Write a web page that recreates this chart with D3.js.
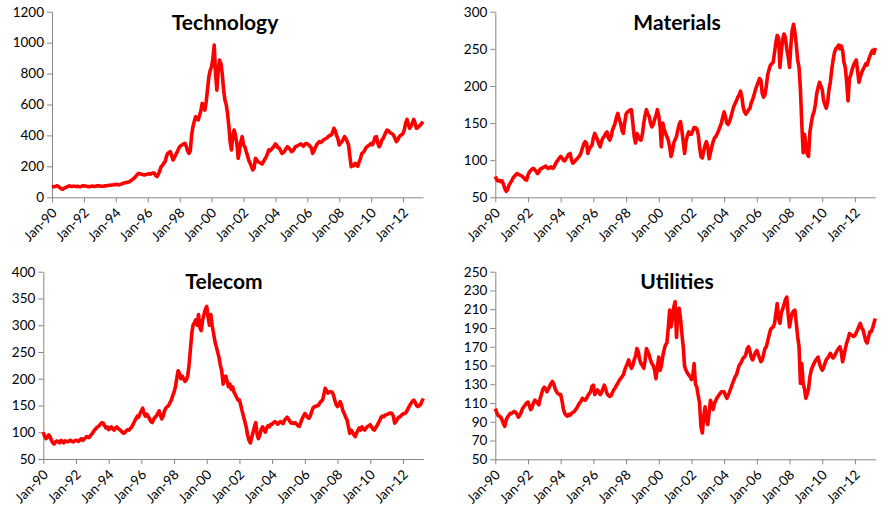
<!DOCTYPE html>
<html><head><meta charset="utf-8">
<script src="https://cdn.jsdelivr.net/npm/d3@7"></script>
<style>
body{margin:0;background:#fff}
text{font-family:Lato,"Open Sans",sans-serif}
</style>
</head><body>
<svg id="c" width="895" height="510"></svg>
<script>
// ---- categories ----
const firstMonth = new Date(1990, 0, 1);
const lastMonth = new Date(2013, 3, 1);
const tickYears = [1990,1992,1994,1996,1998,2000,2002,2004,2006,2008,2010,2012];

// ---- tick labels ----
const techTicks = [0,200,400,600,800,1000,1200];
const materialsTicks = [50,100,150,200,250,300];
const telecomTicks = [50,100,150,200,250,300,350,400];
const utilitiesTicks = [50,70,90,110,130,150,170,190,210,230,250];

// ---- series (monthly, Jan-1990 .. Apr-2013) ----
const technology = [
 65,68,70,72,75,70,62,55,52,58,62,66,
 70,74,72,70,72,71,70,72,70,68,70,74,
 75,73,72,70,68,70,72,72,70,72,74,74,
 73,72,71,72,74,75,76,78,78,80,80,82,
 82,84,80,82,85,88,92,94,96,98,100,105,
 112,118,125,135,145,155,152,150,148,145,145,148,
 150,152,150,155,158,155,140,134,150,170,198,205,
 220,230,260,284,290,295,270,241,255,274,290,310,
 327,335,340,345,349,330,300,284,300,400,457,490,
 521,510,500,530,560,607,590,564,620,700,780,820,
 844,900,984,800,693,820,887,866,800,700,629,600,
 540,457,360,306,400,435,400,349,252,300,360,392,
 340,327,300,270,240,220,200,177,190,252,240,230,
 225,220,215,230,245,260,280,306,300,310,320,330,
 345,335,320,317,300,284,290,300,315,327,320,310,
 295,300,310,327,330,335,340,345,338,330,340,349,
 345,340,330,320,284,300,320,340,350,360,355,360,
 370,375,380,385,395,400,403,420,446,430,400,380,
 338,350,360,375,392,380,360,340,263,198,210,205,
 220,210,200,230,250,284,290,300,320,327,335,340,
 349,340,360,390,392,350,327,340,370,380,400,420,
 435,430,420,413,410,400,380,360,370,390,400,405,
 413,440,480,504,470,446,460,480,504,480,446,450,
 460,467,478,489
];
const materials = [
 78,74,72,73,71,72,68,62,58,60,66,69,
 72,76,78,80,82,81,80,79,78,76,74,73,
 80,84,86,88,89,87,85,82,84,88,89,90,
 91,92,90,89,90,91,89,90,94,98,100,103,
 105,103,100,99,102,105,108,109,100,96,98,100,
 102,104,106,110,116,122,125,123,109,115,118,120,
 130,136,132,128,122,118,125,130,132,136,138,130,
 127,132,140,145,150,158,163,155,150,140,136,150,
 162,165,166,168,168,150,132,123,136,132,128,127,
 135,150,160,168,162,159,150,145,148,155,160,168,
 160,145,118,150,142,136,132,127,118,105,112,123,
 128,132,140,148,152,140,125,109,125,133,138,135,
 135,140,144,144,142,135,118,105,103,112,120,125,
 118,102,110,118,125,130,132,136,140,145,150,158,
 165,158,150,148,152,158,165,172,176,180,185,188,
 193,185,172,165,162,165,168,170,178,182,188,195,
 200,205,210,208,190,185,188,200,215,222,228,230,
 232,245,258,268,265,225,245,262,270,265,250,240,
 225,255,275,283,272,255,235,225,195,150,110,135,
 120,108,105,138,150,160,165,175,190,198,205,200,
 195,180,175,170,178,195,205,222,235,245,250,252,
 255,250,254,248,232,225,205,180,210,215,222,228,
 232,235,220,205,212,218,222,226,230,228,235,240,
 245,248,244,251
];
const telecom = [
 100,92,88,90,95,92,85,80,78,82,84,82,
 80,85,82,80,84,83,82,84,85,83,82,84,
 85,84,83,86,88,85,87,90,92,90,91,95,
 98,102,105,108,110,112,115,118,117,112,108,110,
 105,108,110,106,104,108,110,107,105,103,100,98,
 100,103,105,104,107,110,115,120,125,130,128,135,
 140,145,135,130,134,130,125,120,118,124,128,130,
 135,140,132,125,130,140,145,148,150,155,160,168,
 175,185,200,215,210,200,205,200,195,198,205,225,
 255,285,300,305,310,300,320,295,290,310,320,330,
 335,315,300,320,300,285,270,260,250,240,225,215,
 190,200,205,195,185,190,180,185,175,170,165,160,
 160,150,140,130,120,110,95,85,80,90,100,110,
 118,95,88,95,105,110,105,100,108,112,110,115,
 115,118,120,118,115,117,120,118,116,122,125,128,
 125,120,117,118,116,118,115,112,111,118,125,130,
 135,132,128,126,130,138,145,148,148,150,150,155,
 158,160,170,182,178,173,175,176,175,170,160,152,
 148,152,157,150,140,135,128,123,110,98,104,100,
 95,92,98,104,108,104,110,106,104,108,111,112,
 114,110,106,104,108,112,117,122,128,130,129,132,
 133,134,135,136,135,130,117,120,125,128,129,132,
 134,135,136,140,145,150,154,158,160,156,150,148,
 150,152,158,163
];
const utilities = [
 104,100,97,96,95,92,88,85,92,95,97,99,
 99,100,101,100,98,95,97,100,104,106,108,110,
 111,107,103,105,110,113,112,110,108,115,120,125,
 127,125,122,125,128,131,133,130,125,122,120,119,
 119,112,104,99,97,96,98,97,99,100,101,103,
 105,108,110,112,115,114,113,115,118,120,122,128,
 129,119,121,124,122,119,121,125,129,125,120,118,
 117,118,121,124,126,129,131,134,136,138,140,145,
 149,152,156,150,147,150,156,160,168,165,156,152,
 150,147,155,168,165,161,156,152,150,145,136,148,
 159,145,150,160,167,172,174,190,209,191,200,212,
 218,180,205,211,200,184,170,149,145,142,140,138,
 135,140,152,130,127,118,110,85,78,95,106,92,
 87,100,113,108,103,110,113,116,118,120,122,122,
 122,118,115,118,122,126,130,134,138,140,145,150,
 152,155,158,159,162,168,170,165,158,156,160,164,
 166,162,158,154,156,162,168,170,176,182,188,190,
 191,195,205,216,200,195,206,210,215,220,223,205,
 191,200,206,208,209,195,181,170,131,152,131,125,
 115,120,125,138,145,149,152,155,157,159,152,148,
 145,148,152,156,158,160,163,160,158,160,163,166,
 168,170,165,154,160,168,174,178,184,183,182,181,
 182,185,188,192,195,190,188,182,176,174,180,186,
 186,190,195,200
];

const months = d3.timeMonth.range(firstMonth, d3.timeMonth.offset(lastMonth, 1));
const tickDates = tickYears.map(y => new Date(y, 0, 1));

const panels = [
  {title:"Technology", values:technology, dom:[0,1200], ticks:techTicks,
   x0:52, x1:423, yTop:11.7, yBot:197.3, tx:225, ty:30},
  {title:"Materials", values:materials, dom:[50,300], ticks:materialsTicks,
   x0:495.3, x1:875.3, yTop:11.7, yBot:197.3, tx:677, ty:30},
  {title:"Telecom", values:telecom, dom:[50,400], ticks:telecomTicks,
   x0:43.3, x1:423.3, yTop:271.7, yBot:459, tx:224, ty:288.5},
  {title:"Utilities", values:utilities, dom:[50,250], ticks:utilitiesTicks,
   x0:495.3, x1:875.3, yTop:271.7, yBot:459.3, tx:677, ty:288.5}
];

const svg = d3.select("#c");
const axisColor = "#868686";
const fmt = d3.timeFormat("%b-%y");
const yfmt = d3.format("d");

panels.forEach(p => {
  const x = d3.scaleTime().domain([firstMonth, lastMonth]).range([p.x0, p.x1]);
  const y = d3.scaleLinear().domain(p.dom).range([p.yBot, p.yTop]);
  const g = svg.append("g");

  // y axis
  const ya = g.append("g").attr("transform", `translate(${p.x0},0)`)
    .call(d3.axisLeft(y).tickValues(p.ticks).tickFormat(yfmt)
      .tickSize(5).tickSizeOuter(0).tickPadding(3));
  ya.select(".domain").attr("stroke", axisColor);
  ya.selectAll(".tick line").attr("stroke", axisColor);
  ya.selectAll(".tick text").attr("fill", "#000").style("font-size", "13.5px")
    .style("font-family", "Lato, 'Open Sans', sans-serif");

  // x axis
  const xa = g.append("g").attr("transform", `translate(0,${p.yBot})`)
    .call(d3.axisBottom(x).tickValues(tickDates).tickSize(5).tickSizeOuter(0).tickFormat(fmt));
  xa.select(".domain").attr("stroke", axisColor);
  xa.selectAll(".tick line").attr("stroke", axisColor);
  xa.selectAll(".tick text")
    .attr("fill", "#000").style("font-size", "13.5px")
    .style("font-family", "Lato, 'Open Sans', sans-serif")
    .attr("text-anchor", "end")
    .attr("x", 0).attr("y", 0).attr("dy", "0.35em")
    .attr("transform", "translate(2,13) rotate(-45)");

  // line
  const line = d3.line().x((d, i) => x(months[i])).y(d => y(d));
  g.append("path").datum(p.values)
    .attr("fill", "none").attr("stroke", "#ff0000")
    .attr("stroke-width", 3.6).attr("stroke-linejoin", "round")
    .attr("d", line);

  // title
  g.append("text").attr("x", p.tx).attr("y", p.ty)
    .attr("text-anchor", "middle")
    .style("font-family", "Lato, 'Open Sans', sans-serif")
    .style("font-weight", "bold").style("font-size", "21px")
    .attr("fill", "#000").text(p.title);
});
</script>
</body></html>
